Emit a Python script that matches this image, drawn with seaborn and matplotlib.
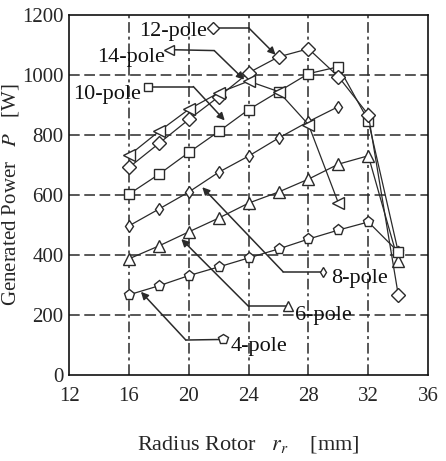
import numpy as np
import pandas as pd
import seaborn as sns
import matplotlib
matplotlib.use("Agg")
import matplotlib.pyplot as plt

# rotor radius [mm] and generated power [W] per pole count
radius = [16, 18, 20, 22, 24, 26, 28, 30, 32, 34]
p4 = [267, 297, 331, 360, 390, 420, 453, 483, 510, 410]
p6 = [387, 430, 477, 523, 573, 610, 653, 703, 731, 380]
p8 = [497, 553, 610, 676, 730, 790, 845, 895]
p10 = [603, 669, 742, 812, 885, 945, 1005, 1028, 848, 410]
p12 = [692, 772, 852, 928, 1008, 1061, 1088, 995, 868, 267]
p14 = [732, 812, 886, 941, 980, 945, 835, 573]

series_names = ["4-pole", "6-pole", "8-pole", "10-pole", "12-pole", "14-pole"]
series_vals = [p4, p6, p8, p10, p12, p14]

x_ticks = [12, 16, 20, 24, 28, 32, 36]
y_ticks = [0, 200, 400, 600, 800, 1000, 1200]

# marker, size for each series
styles = {
    "4-pole": ("p", 8),
    "6-pole": ("^", 8),
    "8-pole": ("d", 6),
    "10-pole": ("s", 7),
    "12-pole": ("D", 7),
    "14-pole": ("<", 8),
}

# label layout: text pos, ha, marker pos, elbow, arrow tip (data coords)
labels = {
    "12-pole": ((21.2, 1146), "right", (21.6, 1158), (24.0, 1158), (25.8, 1068)),
    "14-pole": ((18.4, 1060), "right", (18.7, 1085), (21.7, 1082), (23.7, 985)),
    "10-pole": ((16.8, 935), "right", (17.3, 962), (20.3, 962), (22.4, 849)),
    "8-pole": ((29.5, 320), "left", (29.0, 344), (26.3, 344), (20.9, 626)),
    "6-pole": ((27.1, 198), "left", (26.6, 228), (24.0, 228), (19.5, 453)),
    "4-pole": ((22.8, 95), "left", (22.3, 118), (19.8, 116), (16.8, 277)),
}

sns.set_style("white")
plt.rcParams["font.family"] = ["Liberation Serif", "DejaVu Serif"]
plt.rcParams["mathtext.fontset"] = "stix"

ink = "#2a2a2a"

fig = plt.figure(figsize=(4.46, 4.61), dpi=100)
ax = fig.add_axes([0.155, 0.187, 0.805, 0.780])

for name, vals in zip(series_names, series_vals):
    df = pd.DataFrame({"r": radius[:len(vals)], "P": vals})
    mk, ms = styles[name]
    sns.lineplot(data=df, x="r", y="P", ax=ax, color=ink, lw=0.9,
                 marker=mk, markersize=ms, markerfacecolor="white",
                 markeredgecolor=ink, markeredgewidth=1.0, legend=False,
                 zorder=3)

for name, (txt, ha, mpos, elbow, tip) in labels.items():
    mk, ms = styles[name]
    ax.plot([mpos[0], elbow[0]], [mpos[1], elbow[1]], color=ink, lw=1.1, zorder=4)
    ax.plot(mpos[0], mpos[1], marker=mk, ms=ms - 1, mfc="white", mec=ink,
            mew=1.0, zorder=5)
    ax.annotate("", xy=tip, xytext=elbow,
                arrowprops=dict(arrowstyle="-|>", color=ink, lw=1.1,
                                mutation_scale=11, shrinkA=0, shrinkB=0),
                zorder=4)
    ax.text(txt[0], txt[1], name, ha=ha, va="center", fontsize=16, color="#111")

ax.set_xlim(12, 36)
ax.set_ylim(0, 1200)
ax.set_xticks(x_ticks)
ax.set_yticks(y_ticks)
ax.tick_params(axis="x", length=0, pad=9, labelsize=15)
ax.tick_params(axis="y", direction="out", length=3, width=1, pad=1, labelsize=15)

for xv in x_ticks[1:-1]:
    ax.axvline(xv, color=ink, lw=1.1, ls=(0, (7, 2.5, 2, 2.5)), zorder=1)
for yv in y_ticks[1:-1]:
    ax.axhline(yv, color=ink, lw=1.1, ls=(0, (7, 3)), zorder=1)

for sp in ax.spines.values():
    sp.set_color("#111")
    sp.set_linewidth(1.2)

ax.set_xlabel("Radius Rotor   $r_r$    [mm]", fontsize=16, labelpad=20)
ax.set_ylabel("Generated Power   $P$   [W]", fontsize=15)
ax.yaxis.set_label_coords(-0.135, 0.5)

fig.savefig("out.png", dpi=100)
